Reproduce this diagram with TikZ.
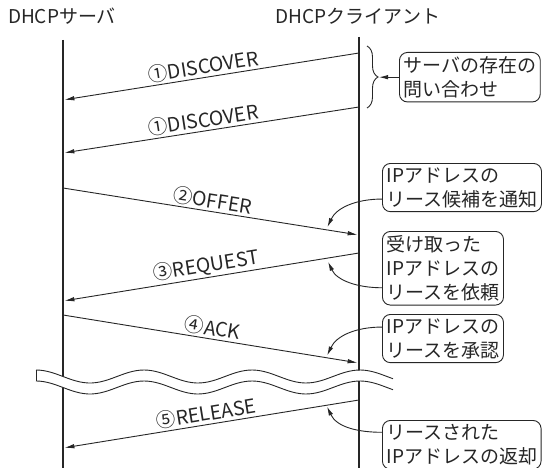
\documentclass[tikz,border=0pt]{standalone}
\usepackage{fontspec}
\setmainfont{Noto Sans CJK JP}
\usetikzlibrary{arrows.meta,decorations.pathreplacing,calc}
\definecolor{ink}{HTML}{262626}
\newcommand\myfnt{\fontsize{19pt}{24pt}\selectfont}
\newcommand\mylblfnt{\fontsize{19.5pt}{24pt}\selectfont}
\begin{document}
\begin{tikzpicture}[x=1pt,y=-1pt,
  lifeline/.style={draw=ink,line width=2.6pt},
  msg/.style={draw=ink,line width=0.9pt,-{Latex[length=10pt,width=4.5pt]},shorten >=1.4pt},
  lbl/.style={sloped,above,inner sep=1.5pt,text=ink,font=\mylblfnt},
  callbox/.style={draw=ink,line width=0.9pt,rounded corners=8pt,align=left,inner xsep=4pt,inner ysep=4pt,text=ink,font=\myfnt,anchor=north west},
  callarr/.style={draw=ink,line width=0.9pt,-{Latex[length=9pt,width=4.5pt]}},
  titletext/.style={text=ink,font=\myfnt}]
\useasboundingbox (0,0) rectangle (546,468);
\fill[white] (0,0) rectangle (546,468);
% titles
\node[titletext] (ts) at (62,16) {DHCPサーバ};
\node[titletext] (tc) at (358,16) {DHCPクライアント};
% lifelines
\coordinate (stop) at (63,40);
\coordinate (sbot) at (63,472);
\coordinate (ctop) at (359,37);
\coordinate (cbot) at (359,472);
\draw[lifeline] (stop) -- (sbot);
\draw[lifeline] (ctop) -- (cbot);
% message endpoints
\coordinate (c1) at (359,53);  \coordinate (s1) at (63,100);
\coordinate (c2) at (359,107); \coordinate (s2) at (63,153);
\coordinate (s3) at (63,188);  \coordinate (c3) at (359,235);
\coordinate (c4) at (359,253); \coordinate (s4) at (63,301);
\coordinate (s5) at (63,315);  \coordinate (c5) at (359,363);
\coordinate (c6) at (359,400); \coordinate (s6) at (63,448);
% messages
\draw[msg] (c1) -- node[lbl,pos=0.52] (l1) {①DISCOVER} (s1);
\draw[msg] (c2) -- node[lbl,pos=0.52] (l2) {①DISCOVER} (s2);
\draw[msg] (s3) -- node[lbl,pos=0.5] (l3) {②OFFER} coordinate[pos=0.889] (o3) (c3);
\draw[msg] (c4) -- node[lbl,pos=0.51] (l4) {③REQUEST} coordinate[pos=0.11] (o4) (s4);
\draw[msg] (s5) -- node[lbl,pos=0.5] (l5) {④ACK} coordinate[pos=0.889] (o5) (c5);
\draw[msg] (c6) -- node[lbl,pos=0.51] (l6) {⑤RELEASE} coordinate[pos=0.11] (o6) (s6);
% wave break
\draw[white,line width=10.5pt] plot[domain=36:393,samples=90,smooth] (\x,{382-6.5*cos(3.33333*(\x-36))});
\draw[ink,line width=0.9pt] plot[domain=36:393,samples=90,smooth] (\x,{376.5-6.5*cos(3.33333*(\x-36))});
\draw[ink,line width=0.9pt] plot[domain=36:393,samples=90,smooth] (\x,{387.5-6.5*cos(3.33333*(\x-36))});
\coordinate (wa) at (36,370); \coordinate (wb) at (36,381);
\draw[ink,line width=0.9pt] (wa) -- (wb);
% callout boxes
\node[callbox] (b1) at (399,52) {サーバの存在の\\問い合わせ};
\node[callbox] (b2) at (382,163) {IPアドレスの\\リース候補を通知};
\node[callbox] (b3) at (382,231) {受け取った\\IPアドレスの\\リースを依頼};
\node[callbox] (b4) at (382,314) {IPアドレスの\\リースを承認};
\node[callbox] (b5) at (382,420) {リースされた\\IPアドレスの返却};
% brace
\coordinate (bt) at (367,46);
\coordinate (bb) at (367,108);
\coordinate (bx) at (379,77);
\draw[ink,line width=0.9pt,decorate,decoration={brace,amplitude=11pt}] (bt) -- (bb);
\draw[callarr] (b1.west) -- (b1.west -| bx);
% callout arrows
\draw[callarr,shorten >=3pt] ([yshift=-11.5pt]b2.west) to[out=180,in=65] (o3);
\draw[callarr,shorten >=4pt] ([yshift=-19.5pt]b3.west) to[out=180,in=-65] (o4);
\draw[callarr,shorten >=2.5pt] ([yshift=11.5pt]b4.west) to[out=180,in=65] (o5);
\draw[callarr,shorten >=1.5pt] ([yshift=12.5pt]b5.west) to[out=180,in=-65] (o6);
\end{tikzpicture}
\end{document}
